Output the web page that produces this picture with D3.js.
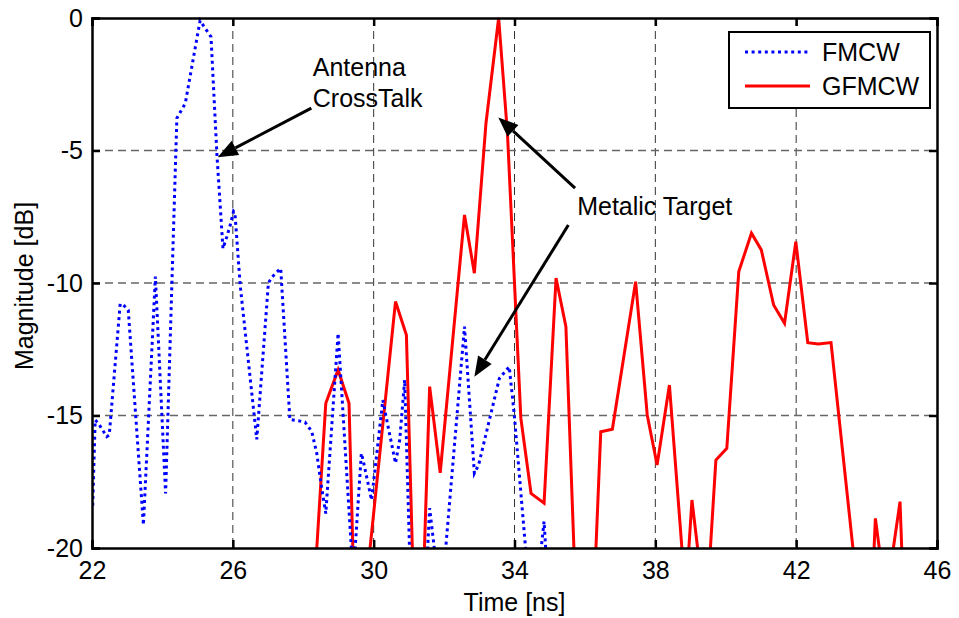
<!DOCTYPE html>
<html>
<head>
<meta charset="utf-8">
<script src="https://cdn.jsdelivr.net/npm/d3@7/dist/d3.min.js"></script>
<style>
  html, body { margin: 0; padding: 0; background: #fff; }
  svg { display: block; }
  text { font-family: "Liberation Sans", Arial, Helvetica, sans-serif; fill: #000; }
</style>
</head>
<body>
<svg id="chart" width="959" height="618"></svg>
<script>
// ---- data ----
const xTicks = [22, 26, 30, 34, 38, 42, 46];
const yTicks = [0, -5, -10, -15, -20];
const seriesNames = ["FMCW", "GFMCW"];

// FMCW (blue dotted): [time ns, magnitude dB]
const fmcw = [
  [22.02, -18.4], [22.09, -15.17], [22.18, -15.29], [22.30, -15.55], [22.42, -15.8],
  [22.49, -15.74], [22.80, -10.79], [22.89, -10.83], [23.03, -11.02], [23.46, -19.13],
  [23.80, -9.76], [24.09, -17.94], [24.41, -3.78], [24.65, -3.22], [25.07, -0.1],
  [25.12, -0.2], [25.38, -0.71], [25.55, -5.2], [25.72, -8.7], [25.83, -8.25],
  [25.94, -7.75], [26.02, -7.3], [26.06, -7.37], [26.21, -10.1], [26.68, -15.9],
  [27.01, -10.0], [27.10, -9.8], [27.24, -9.6], [27.36, -9.45], [27.62, -15.15],
  [27.86, -15.2], [28.05, -15.25], [28.24, -15.6], [28.38, -16.4], [28.52, -17.7],
  [28.64, -18.7], [28.99, -11.9], [29.37, -20.1], [29.42, -20.6], [29.47, -20.1],
  [29.65, -16.43], [29.70, -16.68], [29.94, -18.19], [30.26, -14.42], [30.41, -15.42],
  [30.62, -16.8], [30.74, -15.92], [30.88, -13.66], [31.02, -20.1], [31.25, -22.5],
  [31.53, -20.1], [31.59, -18.5], [31.73, -20.1], [31.88, -22], [32.04, -20.1],
  [32.58, -11.65], [32.86, -17.18], [32.98, -16.87], [33.57, -13.6], [33.85, -13.16],
  [33.99, -14.92], [34.32, -20.1], [34.55, -22], [34.75, -20.1], [34.84, -19.0],
  [34.89, -20.1], [35.1, -24]
];

// GFMCW (red solid): [time ns, magnitude dB]
const gfmcw = [
  [28.0, -26], [28.38, -20.1], [28.64, -14.54], [28.99, -13.28], [29.30, -14.54],
  [29.41, -20.1], [29.65, -24], [29.89, -20.1], [30.62, -10.7], [30.93, -11.96],
  [31.10, -20.1], [31.27, -24], [31.44, -20.1], [31.59, -13.91], [31.89, -17.16],
  [32.58, -7.43], [32.86, -9.63], [33.19, -3.97], [33.55, 0], [33.80, -4.35],
  [34.18, -15.1], [34.47, -17.94], [34.84, -18.31], [35.18, -9.81], [35.46, -11.65],
  [35.69, -20.1], [36.0, -24], [36.31, -20.1], [36.45, -15.61], [36.78, -15.52],
  [37.44, -9.95], [37.77, -14.98], [38.05, -16.87], [38.40, -13.85], [38.76, -20.1],
  [38.88, -21.5], [39.04, -18.19], [39.21, -20.1], [39.38, -24], [39.56, -20.1],
  [39.72, -16.68], [40.03, -16.24], [40.37, -9.57], [40.73, -8.12], [41.01, -8.75],
  [41.36, -10.83], [41.67, -11.52], [41.99, -8.44], [42.33, -12.25], [42.63, -12.3],
  [42.99, -12.25], [43.62, -20.1], [43.9, -24], [44.21, -20.1], [44.25, -18.88],
  [44.37, -20.1], [44.55, -24], [44.75, -20.1], [44.95, -18.25], [45.0, -20.1],
  [45.3, -26]
];

// annotations: text lines + arrows (data coords)
const annotations = [
  { lines: ["Antenna", "CrossTalk"], x: 28.27, y: -2.2,
    arrows: [{ from: [28.23, -3.4], to: [25.57, -5.25] }] },
  { lines: ["Metalic Target"], x: 35.78, y: -7.45,
    arrows: [{ from: [35.72, -6.42], to: [33.54, -3.75] },
             { from: [35.53, -7.81], to: [32.86, -13.54] }] }
];

// ---- layout ----
const W = 959, H = 618;
const m = { left: 92, right: 22, top: 18, bottom: 70 };
const svg = d3.select("#chart");
const x = d3.scaleLinear().domain([22, 46]).range([m.left, W - m.right]);
const y = d3.scaleLinear().domain([-20, 0]).range([H - m.bottom, m.top]);
const FS = 25;

svg.append("rect").attr("width", W).attr("height", H).attr("fill", "#fff");

// grid
const grid = svg.append("g");
grid.selectAll("line.v").data(xTicks.slice(1, -1)).join("line")
  .attr("x1", d => x(d)).attr("x2", d => x(d))
  .attr("y1", y(0)).attr("y2", y(-20))
  .attr("stroke", "#333").attr("stroke-width", 1).attr("stroke-dasharray", "8,5");
grid.selectAll("line.h").data(yTicks.slice(1, -1)).join("line")
  .attr("x1", x(22)).attr("x2", x(46))
  .attr("y1", d => y(d)).attr("y2", d => y(d))
  .attr("stroke", "#666").attr("stroke-width", 1.3).attr("stroke-dasharray", "8,5");

// clip
svg.append("clipPath").attr("id", "clip").append("rect")
  .attr("x", x(22)).attr("y", y(0) - 2).attr("width", x(46) - x(22)).attr("height", y(-20) - y(0) + 2);

const line = d3.line().x(d => x(d[0])).y(d => y(d[1]));
const plot = svg.append("g").attr("clip-path", "url(#clip)");
plot.append("path").datum(gfmcw).attr("d", line)
  .attr("fill", "none").attr("stroke", "#ff0000").attr("stroke-width", 3)
  .attr("stroke-linejoin", "miter");
plot.append("path").datum(fmcw).attr("d", line)
  .attr("fill", "none").attr("stroke", "#0000ff").attr("stroke-width", 3)
  .attr("stroke-dasharray", "3,3.6");

// axes with inward ticks on all sides
const tickLen = 8;
const axB = svg.append("g").attr("transform", `translate(0,${y(-20)})`)
  .call(d3.axisBottom(x).tickValues(xTicks).tickSize(-tickLen).tickPadding(13));
const axT = svg.append("g").attr("transform", `translate(0,${y(0)})`)
  .call(d3.axisTop(x).tickValues(xTicks).tickSize(-tickLen).tickFormat(""));
const axL = svg.append("g").attr("transform", `translate(${x(22)},0)`)
  .call(d3.axisLeft(y).tickValues(yTicks).tickSize(-tickLen).tickPadding(9)
    .tickFormat(d => d === 0 ? "0" : String(d)));
const axR = svg.append("g").attr("transform", `translate(${x(46)},0)`)
  .call(d3.axisRight(y).tickValues(yTicks).tickSize(-tickLen).tickFormat(""));
[axB, axT, axL, axR].forEach(a => {
  a.select(".domain").attr("stroke", "#000").attr("stroke-width", 2.5);
  a.selectAll(".tick line").attr("stroke", "#000").attr("stroke-width", 2.5);
  a.selectAll(".tick text").attr("font-size", FS).attr("fill", "#000")
    .attr("font-family", '"Liberation Sans", Arial, sans-serif');
});

// axis labels
svg.append("text").attr("x", (x(22) + x(46)) / 2).attr("y", 611)
  .attr("text-anchor", "middle").attr("font-size", FS).text("Time [ns]");
svg.append("text").attr("transform", `translate(33,${(y(0) + y(-20)) / 2 + 3}) rotate(-90)`)
  .attr("text-anchor", "middle").attr("font-size", FS).text("Magnitude [dB]");

// annotations
function arrow(g, from, to) {
  const x1 = x(from[0]), y1 = y(from[1]), x2 = x(to[0]), y2 = y(to[1]);
  const ang = Math.atan2(y2 - y1, x2 - x1);
  const L = 20, Wd = 8;
  const bx = x2 - L * Math.cos(ang), by = y2 - L * Math.sin(ang);
  g.append("line").attr("x1", x1).attr("y1", y1).attr("x2", bx).attr("y2", by)
    .attr("stroke", "#000").attr("stroke-width", 3);
  const px = -Math.sin(ang), py = Math.cos(ang);
  g.append("path")
    .attr("d", `M${x2},${y2}L${bx + px * Wd},${by + py * Wd}L${bx - px * Wd},${by - py * Wd}Z`)
    .attr("fill", "#000");
}
const ann = svg.append("g");
annotations.forEach(a => {
  a.lines.forEach((t, i) => {
    ann.append("text").attr("x", x(a.x)).attr("y", y(a.y) + i * 31)
      .attr("font-size", FS).text(t);
  });
  a.arrows.forEach(r => arrow(ann, r.from, r.to));
});

// legend
const lg = svg.append("g").attr("transform", "translate(729,32)");
lg.append("rect").attr("width", 201).attr("height", 76)
  .attr("fill", "#fff").attr("stroke", "#000").attr("stroke-width", 2);
const legendItems = [
  { name: seriesNames[0], color: "#0000ff", dash: "3,3.6" },
  { name: seriesNames[1], color: "#ff0000", dash: null }
];
legendItems.forEach((it, i) => {
  const ly = 20 + i * 34;
  lg.append("line").attr("x1", 16).attr("x2", 81).attr("y1", ly).attr("y2", ly)
    .attr("stroke", it.color).attr("stroke-width", 3)
    .attr("stroke-dasharray", it.dash);
  lg.append("text").attr("x", 93).attr("y", ly + 9).attr("font-size", FS).text(it.name);
});
</script>
</body>
</html>
